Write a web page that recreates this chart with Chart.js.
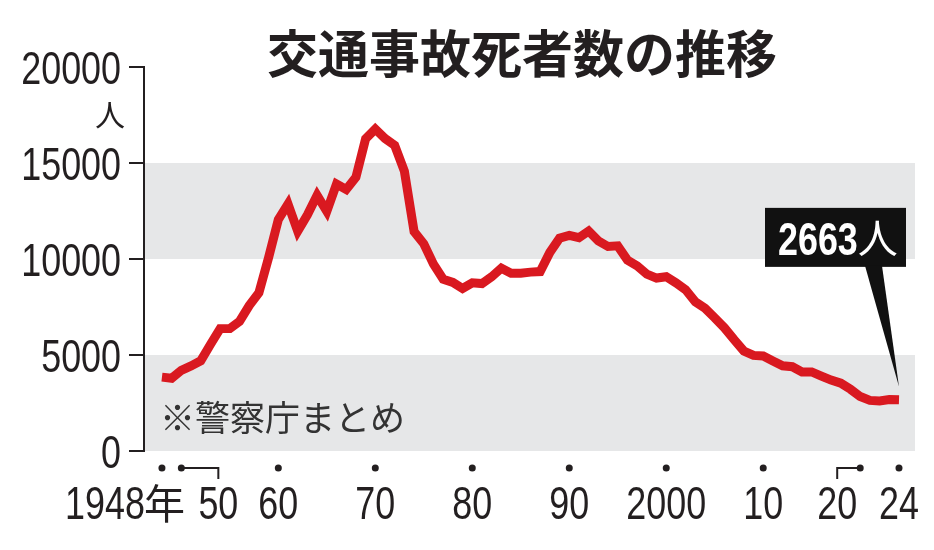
<!DOCTYPE html>
<html lang="ja">
<head>
<meta charset="utf-8">
<title>交通事故死者数の推移</title>
<script src="https://cdn.jsdelivr.net/npm/chart.js@4.4.1/dist/chart.umd.min.js"></script>
<style>
  html, body { margin: 0; padding: 0; background: #fff; }
</style>
</head>
<body>
<canvas id="myChart" width="934" height="550"></canvas>
<script>
// 交通事故死者数（警察庁まとめ） 1948〜2024年
var evek = [1948, 1949, 1950, 1951, 1952, 1953, 1954, 1955, 1956, 1957,
            1958, 1959, 1960, 1961, 1962, 1963, 1964, 1965, 1966, 1967,
            1968, 1969, 1970, 1971, 1972, 1973, 1974, 1975, 1976, 1977,
            1978, 1979, 1980, 1981, 1982, 1983, 1984, 1985, 1986, 1987,
            1988, 1989, 1990, 1991, 1992, 1993, 1994, 1995, 1996, 1997,
            1998, 1999, 2000, 2001, 2002, 2003, 2004, 2005, 2006, 2007,
            2008, 2009, 2010, 2011, 2012, 2013, 2014, 2015, 2016, 2017,
            2018, 2019, 2020, 2021, 2022, 2023, 2024];

var halottak = [3848, 3790, 4202, 4429, 4696, 5544, 6374, 6379, 6751, 7575,
                8248, 10079, 12055, 12865, 11445, 12301, 13318, 12484, 13904, 13618,
                14256, 16257, 16765, 16278, 15918, 14574, 11432, 10792, 9734, 8945,
                8783, 8466, 8760, 8719, 9073, 9520, 9262, 9261, 9317, 9347,
                10344, 11086, 11227, 11109, 11452, 10942, 10649, 10684, 9942, 9640,
                9211, 9006, 9073, 8757, 8396, 7768, 7436, 6937, 6415, 5796,
                5209, 4979, 4948, 4691, 4438, 4388, 4113, 4117, 3904, 3694,
                3532, 3215, 2839, 2636, 2610, 2678, 2663];

// x tengely feliratai
var tickEvek = [1948, 1950, 1960, 1970, 1980, 1990, 2000, 2010, 2020, 2024];
var tickFeliratok = ['1948年', '50', '60', '70', '80', '90', '2000', '10', '20', '24'];

// szürke sávok (y értékek)
var savok = [[0, 5000], [10000, 15000]];

var CIM = '交通事故死者数の推移';
var FORRAS = '※警察庁まとめ';
var EGYSEG = '人';

var szamFont = "'Liberation Sans', Arial, sans-serif";
var jpFont = "'Noto Sans CJK JP', sans-serif";
var fekete = '#231f20';
var SZUKITES = 0.78;   // keskenyített számjegyek

var pontok = [];
for (var i = 0; i < evek.length; i++) {
    pontok.push({ x: evek[i], y: halottak[i] });
}

// keskeny szöveg rajzolása (vízszintesen összenyomva)
function keskeny(ctx, szoveg, x, y, igazitas, font) {
    ctx.save();
    ctx.translate(x, y);
    ctx.scale(SZUKITES, 1);
    ctx.font = font;
    ctx.textAlign = igazitas;
    ctx.fillText(szoveg, 0, 0);
    var w = ctx.measureText(szoveg).width * SZUKITES;
    ctx.restore();
    return w;
}

// háttér sávok
var hatter = {
    id: 'hatter',
    beforeDraw: function (chart) {
        var ctx = chart.ctx, y = chart.scales.y, a = chart.chartArea;
        ctx.save();
        ctx.fillStyle = '#e6e7e8';
        for (var i = 0; i < savok.length; i++) {
            var felso = y.getPixelForValue(savok[i][1]);
            var also = y.getPixelForValue(savok[i][0]);
            ctx.fillRect(a.left, felso, a.right - a.left, also - felso);
        }
        ctx.restore();
    }
};

// cím, egység, forrás, tengelyfeliratok, utolsó érték címkéje
var feliratok = {
    id: 'feliratok',
    afterDraw: function (chart) {
        var ctx = chart.ctx, x = chart.scales.x, y = chart.scales.y;
        ctx.save();

        // cím
        ctx.fillStyle = fekete;
        ctx.font = 'bold 51px ' + jpFont;
        ctx.textAlign = 'center';
        ctx.textBaseline = 'middle';
        ctx.fillText(CIM, 522, 54);

        // egység a 20000 alatt
        ctx.font = '30px ' + jpFont;
        ctx.fillText(EGYSEG, 110, 115);

        // forrás
        ctx.fillStyle = '#333';
        ctx.font = '35px ' + jpFont;
        ctx.textAlign = 'left';
        ctx.fillText(FORRAS, 160, 418);

        // y tengely feliratai
        ctx.fillStyle = fekete;
        ctx.textBaseline = 'alphabetic';
        y.ticks.forEach(function (t) {
            var py = y.getPixelForValue(t.value);
            keskeny(ctx, String(t.value), 121, py + 16.5, 'right', '46px ' + szamFont);
        });

        // x tengely: pöttyök + feliratok
        var pottyY = 468;
        var szovegY = 519;
        ctx.strokeStyle = fekete;
        ctx.lineWidth = 2;
        for (var i = 0; i < tickEvek.length; i++) {
            var px = x.getPixelForValue(tickEvek[i]);
            ctx.beginPath();
            ctx.arc(px, pottyY, 3.5, 0, Math.PI * 2);
            ctx.fill();

            var felirat = tickFeliratok[i];
            ctx.textBaseline = 'alphabetic';
            if (i === 0) {
                // 1948年
                var szam = felirat.replace('年', '');
                keskeny(ctx, szam, px - 17, szovegY, 'right', '46px ' + szamFont);
                ctx.font = '41px ' + jpFont;
                ctx.textAlign = 'left';
                ctx.textBaseline = 'middle';
                ctx.fillText('年', px - 18, 503);
                continue;
            }
            var lx = px;
            if (tickEvek[i] === 1950) lx = px + 37;
            if (tickEvek[i] === 2020) lx = px - 23;
            if (lx !== px) {
                ctx.beginPath();
                ctx.moveTo(px, pottyY);
                ctx.lineTo(lx, pottyY);
                ctx.lineTo(lx, pottyY + 11);
                ctx.stroke();
            }
            keskeny(ctx, felirat, lx, szovegY, 'center', '46px ' + szamFont);
        }

        // utolsó érték címkéje
        var n = halottak.length - 1;
        var vx = x.getPixelForValue(evek[n]);
        var vy = y.getPixelForValue(halottak[n]);
        var bal = vx - 134, jobb = vx + 7, teteje = vy - 192, alja = vy - 133;
        ctx.fillStyle = '#111';
        ctx.fillRect(bal, teteje, jobb - bal, alja - teteje);
        ctx.beginPath();
        ctx.moveTo(vx - 34, alja - 1);
        ctx.lineTo(vx - 17, alja - 1);
        ctx.lineTo(vx, vy - 13);
        ctx.closePath();
        ctx.fill();

        ctx.fillStyle = '#fff';
        ctx.textBaseline = 'alphabetic';
        var w = keskeny(ctx, String(halottak[n]), bal + 13, teteje + 47, 'left', 'bold 46px ' + szamFont);
        ctx.font = '40px ' + jpFont;
        ctx.textAlign = 'left';
        ctx.textBaseline = 'middle';
        ctx.fillText(EGYSEG, bal + 13 + w, teteje + 30);

        ctx.restore();
    }
};

new Chart(document.getElementById('myChart'), {
    type: 'line',
    data: {
        datasets: [{
            data: pontok,
            borderColor: '#d91920',
            borderWidth: 9,
            pointRadius: 0,
            tension: 0,
            fill: false
        }]
    },
    options: {
        responsive: false,
        devicePixelRatio: 1,
        animation: false,
        layout: { padding: { top: 67, right: 19, bottom: 99, left: 0 } },
        plugins: {
            legend: { display: false },
            tooltip: { enabled: false }
        },
        scales: {
            x: {
                type: 'linear',
                display: false,
                min: 1946.15,
                max: 2025.65
            },
            y: {
                min: 0,
                max: 20000,
                afterFit: function (scale) { scale.width = 144; },
                border: { display: true, color: fekete, width: 2 },
                grid: {
                    drawOnChartArea: false,
                    drawTicks: true,
                    tickLength: 15,
                    color: fekete,
                    lineWidth: 2
                },
                ticks: {
                    display: false,
                    stepSize: 5000
                }
            }
        }
    },
    plugins: [hatter, feliratok]
});
</script>
</body>
</html>
